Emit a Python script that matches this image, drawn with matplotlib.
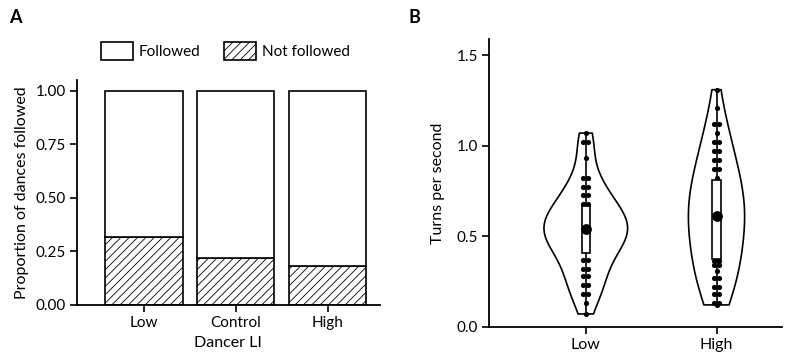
import numpy as np
import matplotlib
matplotlib.use("Agg")
import matplotlib.pyplot as plt

plt.rcParams['font.family'] = ['Lato', 'DejaVu Sans']
plt.rcParams['hatch.linewidth'] = 0.6
plt.rcParams['hatch.color'] = '#444444'

# panel A: proportion of dances followed
groups_a = ["Low", "Control", "High"]
not_followed = [0.315, 0.218, 0.181]
followed = [1 - v for v in not_followed]

groups_b = ["Low", "High"]
turns_low = [0.07, 0.13, 0.18, 0.18, 0.23, 0.23, 0.28, 0.28, 0.32, 0.32, 0.37, 0.37,
             0.42, 0.43, 0.44, 0.45, 0.46, 0.47, 0.48, 0.49, 0.50, 0.51, 0.53, 0.54,
             0.54, 0.55, 0.56, 0.57, 0.58, 0.59, 0.60, 0.61, 0.62, 0.63, 0.65, 0.66,
             0.68, 0.68, 0.73, 0.73, 0.77, 0.77, 0.82, 0.82, 0.93, 1.02, 1.02, 1.07]
turns_high = [0.12, 0.13, 0.13, 0.18, 0.18, 0.22, 0.22, 0.27, 0.27, 0.31, 0.34, 0.34,
              0.36, 0.36,
              0.38, 0.40, 0.42, 0.44, 0.46, 0.48, 0.50, 0.52, 0.54, 0.56, 0.58, 0.59,
              0.60, 0.61, 0.61, 0.62, 0.63, 0.65, 0.67, 0.69, 0.71, 0.73, 0.75, 0.77,
              0.78, 0.79, 0.80, 0.81,
              0.82, 0.87, 0.87, 0.92, 0.92, 0.97, 0.97, 1.02, 1.02, 1.07, 1.12, 1.12,
              1.21, 1.31]

fig = plt.figure(figsize=(7.85, 3.55), dpi=100)
ax_a = fig.add_axes([0.098, 0.141, 0.386, 0.634])
ax_b = fig.add_axes([0.623, 0.080, 0.373, 0.810])

for ax in (ax_a, ax_b):
    for s in ("top", "right"):
        ax.spines[s].set_visible(False)
    for s in ("left", "bottom"):
        ax.spines[s].set_linewidth(1.3)
    ax.tick_params(width=1.2, length=5, labelsize=11, pad=3)

# ---- A ----
x = np.arange(len(groups_a))
ax_a.bar(x, not_followed, width=0.84, color="white", edgecolor="black",
         linewidth=1.2, hatch="////", label="Not followed")
ax_a.bar(x, followed, bottom=not_followed, width=0.84, color="white",
         edgecolor="black", linewidth=1.2, label="Followed")
ax_a.set_xlim(-0.73, 2.57)
ax_a.set_ylim(0, 1.051)
ax_a.set_yticks([0, 0.25, 0.5, 0.75, 1.0])
ax_a.set_yticklabels(["0.00", "0.25", "0.50", "0.75", "1.00"])
ax_a.set_xticks(x)
ax_a.set_xticklabels(groups_a)
ax_a.set_ylabel("Proportion of dances followed", fontsize=11.5, labelpad=5)
ax_a.set_xlabel("Dancer LI", fontsize=11.5, labelpad=4)
h, l = ax_a.get_legend_handles_labels()
ax_a.legend(h[::-1], l[::-1], loc="center", bbox_to_anchor=(0.49, 1.127), ncol=2,
            frameon=False, fontsize=11, handlelength=2.1, handleheight=1.4,
            columnspacing=1.5, handletextpad=0.4)

# ---- B ----
pos = [0, 1]
datasets = [turns_low, turns_high]
widths = [0.64, 0.43]
bws = [0.45, 0.55]
for p, d, w, bw in zip(pos, datasets, widths, bws):
    vp = ax_b.violinplot([d], positions=[p], widths=w, showextrema=False,
                         bw_method=bw)
    for body in vp["bodies"]:
        body.set_facecolor("none")
        body.set_edgecolor("black")
        body.set_linewidth(1.2)
        body.set_alpha(1)

    bp = ax_b.boxplot([d], positions=[p], widths=0.065, whis=(0, 100),
                      showcaps=False, showfliers=False, patch_artist=True,
                      medianprops=dict(visible=False))
    for wl in bp["whiskers"]:
        wl.set(color="black", linewidth=1.2, zorder=2)
    for b in bp["boxes"]:
        b.set(facecolor="white", edgecolor="black", linewidth=1.2, zorder=4)

    # simple swarm: repeated values are spread sideways
    vals, counts = np.unique(d, return_counts=True)
    xs, ys = [], []
    for v, c in zip(vals, counts):
        offs = (np.arange(c) - (c - 1) / 2) * 0.038
        xs.extend(p + offs)
        ys.extend([v] * c)
    ax_b.scatter(xs, ys, s=14, color="black", zorder=3, linewidths=0)
    ax_b.scatter([p], [np.median(d)], s=60, color="black", zorder=5,
                 linewidths=0)

ax_b.set_xlim(-0.74, 1.5)
ax_b.set_ylim(0, 1.59)
ax_b.set_yticks([0, 0.5, 1.0, 1.5])
ax_b.set_xticks(pos)
ax_b.set_xticklabels(groups_b, fontsize=11.5)
ax_b.set_ylabel("Turns per second", fontsize=11.5, labelpad=8)

fig.text(0.012, 0.935, "A", fontsize=13, fontweight="bold")
fig.text(0.521, 0.935, "B", fontsize=13, fontweight="bold")

fig.savefig("out.png", dpi=100)
